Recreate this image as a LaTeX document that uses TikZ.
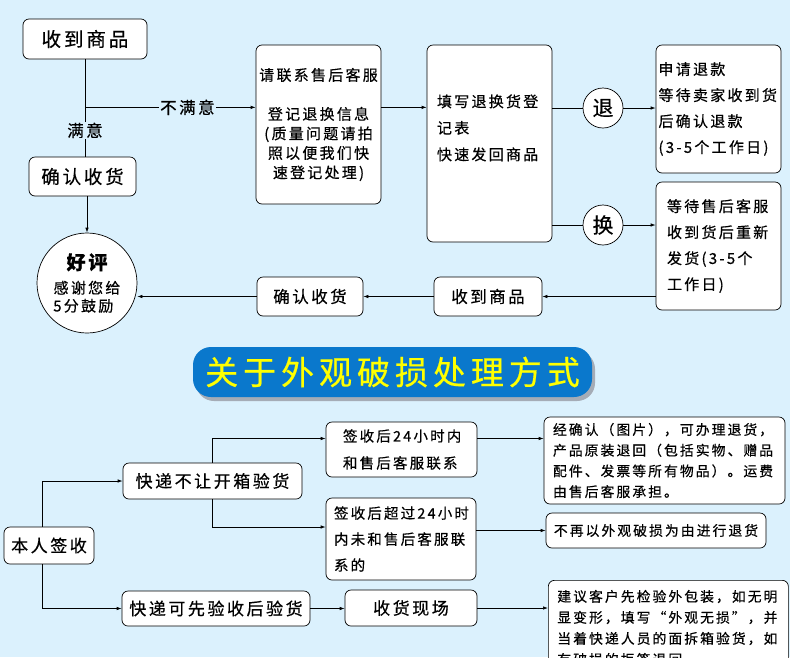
\documentclass[tikz,border=0pt]{standalone}
\usepackage{fontspec}
\setmainfont{Noto Sans CJK SC}[LetterSpace=15, FakeBold=0.5]
\usetikzlibrary{arrows.meta,shadows}

\definecolor{bgblue}{RGB}{219,241,253}
\definecolor{barblue}{RGB}{10,120,204}
\definecolor{bartext}{RGB}{255,255,0}
\definecolor{barshade}{RGB}{165,172,182}

\newcommand{\fsz}[2]{\fontsize{#1}{#2}\selectfont}

\begin{document}
\begin{tikzpicture}[
    x=1pt, y=-1pt, % pixel grid, y downwards
    >={Latex[length=5pt,width=3.5pt]}, % Set default arrow tip style
    line width=0.7pt,
    box/.style={draw, fill=white, rounded corners=6pt, inner sep=0pt, align=center}, % Rounded white box
    sidebox/.style={box, align=left}, % Box with left aligned text
    tag/.style={draw, fill=white, circle, minimum size=40pt, inner sep=0pt, font=\fsz{21}{21}}, % Round marker
    onbg/.style={fill=bgblue, inner sep=1pt} % Label sitting on a line
]

% Page
\useasboundingbox (0,0) rectangle (790,657);
\fill[bgblue] (0,0) rectangle (790,657);
\clip (0,0) rectangle (790,657);

% Upper flow
\node[box, minimum width=124pt, minimum height=40pt, font=\fsz{19.5}{20}] (recvgoods) at (85,39) {收到商品};
\node[box, minimum width=107pt, minimum height=39pt, font=\fsz{18.5}{20}] (confirmgoods) at (82.5,176.5) {确认收货};
\node[draw, fill=white, circle, minimum size=100pt, inner sep=0pt, align=center, font=\fsz{15}{18}] (praise) at (87,283)
    {{\fsz{19}{19}\bfseries 好评}\\[6pt]感谢您给\\\makebox[4.5em][l]{5分鼓励}};
\node[box, minimum width=125pt, minimum height=159pt, font=\fsz{15}{19.5}] (contactsvc) at (318.5,124.5)
    {请联系售后客服\\[19.5pt]登记退换信息\\(质量问题请拍\\照以便我们快\\速登记处理)};
\node[sidebox, minimum width=125pt, minimum height=197pt, text width=105pt, font=\fsz{15}{26.5}] (fillform) at (489.5,143.5)
    {填写退换货登\\记表\\快速发回商品\\[6pt]~};
\node[tag] (tui) at (603,108) {退};
\node[tag] (huan) at (603,225) {换};
\node[sidebox, minimum width=125pt, minimum height=128pt, text width=120pt, font=\fsz{15}{26}] (refund) at (718.5,109)
    {申请退款\\等待卖家收到货\\后确认退款\\(3-5个工作日)};
\node[sidebox, minimum width=125pt, minimum height=128pt, text width=103pt, font=\fsz{15}{26}] (resend) at (718.5,246)
    {等待售后客服\\收到货后重新\\发货(3-5个\\工作日)};
\node[box, minimum width=108pt, minimum height=39pt, font=\fsz{16.5}{18}] (recvback) at (488,296.5) {收到商品};
\node[box, minimum width=106pt, minimum height=39pt, font=\fsz{16.5}{18}] (confirmback) at (310,296.5) {确认收货};

% Upper connectors
\coordinate (split) at ([yshift=-48pt]recvgoods.south);
\draw (recvgoods.south) -- node[onbg, pos=0.73, font=\fsz{16.5}{18}] (labelyes) {满意} (recvgoods.south |- confirmgoods.north);
\draw[->] (split) -- node[onbg, pos=0.6, font=\fsz{16.5}{18}] (labelno) {不满意} (split -| contactsvc.west);
\draw[->] (contactsvc.east |- split) -- (fillform.west |- split);
\draw (fillform.east |- tui) -- (tui);
\draw[->] (tui) -- (refund.west |- tui);
\draw (fillform.east |- huan) -- (huan);
\draw[->] (huan) -- (resend.west |- huan);
\draw[->] (resend.west |- recvback) -- (recvback);
\draw[->] (recvback) -- (confirmback);
\draw[->] (confirmback.west) -- (confirmback.west -| praise.east);
\draw[->] (praise |- confirmgoods.south) -- (praise);

% Title bar
\node[fill=barblue, rounded corners=18pt, minimum width=399pt, minimum height=50pt, text=bartext, font=\fsz{33}{33},
    drop shadow={shadow xshift=3pt, shadow yshift=-4pt, fill=barshade, opacity=1}] (title) at (392.5,372) {关于外观破损处理方式};

% Lower flow
\node[box, minimum width=90pt, minimum height=37pt, font=\fsz{17}{18}] (selfsign) at (49,545.5) {本人签收};
\node[box, minimum width=179pt, minimum height=36pt, font=\fsz{17}{18}] (noopen) at (212.5,481) {快递不让开箱验货};
\node[box, minimum width=188pt, minimum height=35pt, font=\fsz{17}{18}] (canopen) at (216,608.5) {快递可先验收后验货};
\node[sidebox, minimum width=151pt, minimum height=55pt, text width=117pt, font=\fsz{14.5}{27}] (within) at (401.5,449.5)
    {签收后24小时内\\和售后客服联系};
\node[sidebox, minimum width=150pt, minimum height=82pt, text width=134pt, font=\fsz{14.5}{26}] (beyond) at (401,539)
    {签收后超过24小时\\内未和售后客服联\\系的};
\node[box, minimum width=132pt, minimum height=36pt, font=\fsz{17}{18}] (onsite) at (411,608) {收货现场};
\node[sidebox, minimum width=241pt, minimum height=87pt, text width=223pt, font=\fsz{13.8}{20.7}] (photoret) at (664.5,460.5)
    {经确认（图片），可办理退货，\\产品原装退回（包括实物、赠品\\配件、发票等所有物品）。运费\\由售后客服承担。};
\node[box, minimum width=220pt, minimum height=35pt, font=\fsz{13.8}{16}] (noreturn) at (656,530.5) {不再以外观破损为由进行退货};
\node[sidebox, anchor=north west, minimum width=240pt, minimum height=95pt, text width=222pt, font=\fsz{13.8}{21}] (advice) at (548,580)
    {建议客户先检验外包装，如无明\\显变形，填写“外观无损”，并\\当着快递人员的面拆箱验货，如\\有破损的拒签退回};

% Lower connectors
\draw[->] ([xshift=-7pt]selfsign.north) |- (noopen.west);
\draw[->] ([xshift=-7pt]selfsign.south) |- (canopen.west);
\draw[->] (noopen.north) |- ([yshift=11pt]within.west);
\draw[->] (noopen.south) |- ([yshift=12pt]beyond.west);
\draw[->] ([yshift=11pt]within.east) -- ([yshift=11pt]within.east -| photoret.west);
\draw[->] (beyond.east |- noreturn) -- (noreturn.west);
\draw[->] (canopen.east) -- (canopen.east -| onsite.west);
\draw[->] (onsite.east) -- (onsite.east -| advice.west);

\end{tikzpicture}
\end{document}
